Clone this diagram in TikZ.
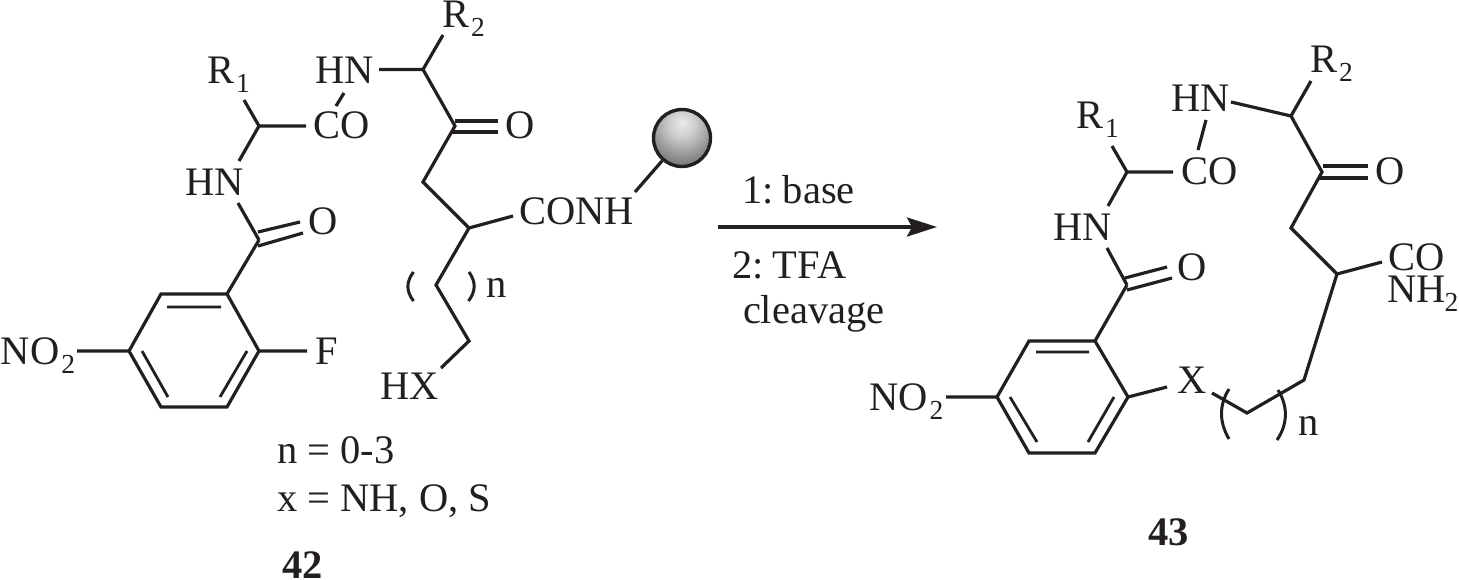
\documentclass[tikz,border=0pt]{standalone}
\usepackage{fontspec}
\setmainfont{Liberation Serif}
\usetikzlibrary{arrows.meta}
\definecolor{ink}{HTML}{231F20}
\newcommand{\subs}[1]{\kern2pt\raisebox{-9pt}{\fontsize{27.5}{27.5}\selectfont #1}}
\pgfdeclareradialshading{resinball}{\pgfpoint{0bp}{14bp}}{%
  color(0bp)=(white!92!black); color(12bp)=(white!80!black); color(28bp)=(white!55!black);
  color(44bp)=(white!33!black); color(60bp)=(white!18!black); color(100bp)=(white!15!black)}
\tikzset{
  lab/.style={anchor=base west,inner sep=0pt,outer sep=0pt,text=ink,font=\fontsize{40.5}{40.5}\selectfont},
  blab/.style={lab,font=\fontsize{40.5}{40.5}\selectfont\bfseries},
  bond/.style={draw=ink,line width=3.2pt,line cap=butt,line join=miter},
  inner/.style={draw=ink,line width=2.8pt},
  brack/.style={draw=ink,line width=3pt},
  resin/.style={circle,draw=ink,line width=3.4pt,minimum size=57pt,inner sep=0pt,shading=resinball},
  rxn/.style={draw=ink,line width=3.2pt,-{Stealth[length=30pt,width=19pt,inset=5pt]}}
}
\begin{document}
\begin{tikzpicture}[x=1pt,y=-1pt]
\useasboundingbox (0,0) rectangle (1459,579);
% ---------- compound 42 labels
\node[lab] (aNO) at (1,364) {NO\subs{2}};
\node[lab] (aF) at (315,364) {F};
\node[lab] (aO1) at (308,234) {O};
\node[lab] (aHN1) at (185,195) {HN};
\node[lab] (aR1) at (207,83) {R\subs{1}};
\node[lab] (aCO) at (313,138) {CO};
\node[lab] (aHN2) at (315,83) {HN};
\node[lab] (aR2) at (442,27) {R\subs{2}};
\node[lab] (aO2) at (505,138) {O};
\node[lab] (aCONH) at (519,224) {CONH};
\node[lab] (an) at (486,297) {n};
\node[lab] (aHX) at (380,399) {HX};
\node[lab] (t1) at (277,463) {n = 0-3};
\node[lab] (t2) at (277,511) {x = NH, O, S};
\node[blab] (t3) at (282,578) {42};
\node[resin] (ball) at (682,138) {};
% ---------- compound 42 atoms
\coordinate (a1) at (129,351); \coordinate (a2) at (161,294); \coordinate (a3) at (227,294);
\coordinate (a4) at (259,351); \coordinate (a5) at (227,407); \coordinate (a6) at (161,407);
\coordinate (ac) at (259,240); \coordinate (aca) at (259,126); \coordinate (acb) at (423,69.5);
\coordinate (ak) at (455,126); \coordinate (am) at (423,182); \coordinate (ach) at (469,228);
\coordinate (ax) at (436,285); \coordinate (ay) at (469,341);
\draw[bond] (a1)--(a2)--(a3)--(a4)--(a5)--(a6)--cycle;
\coordinate (i1) at (167,307); \coordinate (i2) at (221,307);
\coordinate (i3) at (142,351); \coordinate (i4) at (168,397);
\coordinate (i5) at (247,351); \coordinate (i6) at (220,397);
\draw[inner] (i1)--(i2) (i3)--(i4) (i5)--(i6);
\coordinate (e1) at (77,351); \coordinate (e2) at (307,351);
\draw[bond] (e1)--(a1) (a4)--(e2) (a3)--(ac);
\coordinate (d1) at (258,232); \coordinate (d2) at (300,222); \coordinate (d3) at (258,246); \coordinate (d4) at (303,233);
\draw[bond] (d1)--(d2) (d3)--(d4);
\coordinate (e3) at (238,203); \coordinate (e4) at (239,161); \coordinate (e5) at (244,100);
\coordinate (e6) at (306,126); \coordinate (e7) at (336,106); \coordinate (e8) at (344,93);
\coordinate (e9) at (379,69.5); \coordinate (e10) at (443,35);
\draw[bond] (ac)--(e3) (e4)--(aca) (aca)--(e5) (aca)--(e6) (e7)--(e8) (e9)--(acb) (acb)--(e10) (acb)--(ak)--(am)--(ach);
\coordinate (d5) at (455,121); \coordinate (d6) at (498,121); \coordinate (d7) at (452,132); \coordinate (d8) at (498,132);
\draw[bond] (d5)--(d6) (d7)--(d8);
\coordinate (e11) at (513,216); \coordinate (e12) at (635,192); \coordinate (e13) at (441,368);
\draw[bond] (ach)--(e11) (e12)--(ball) (ach)--(ax)--(ay)--(e13);
\coordinate (b1) at (413.5,272); \coordinate (b2) at (413.5,301);
\coordinate (b3) at (469,272); \coordinate (b4) at (468.5,301);
\draw[brack] (b1) .. controls (406,282) and (406,291) .. (b2);
\draw[brack] (b3) .. controls (476,282) and (476,291) .. (b4);
% ---------- reaction arrow
\coordinate (r1) at (718,227); \coordinate (r2) at (937,227);
\draw[rxn] (r1)--(r2);
\node[lab] (l1) at (742,203) {1:\kern-4pt{} base};
\node[lab] (l2) at (732,278) {2:\kern-4pt{} TFA};
\node[lab] (l3) at (743,323) {cleavage};
% ---------- compound 43 labels
\node[lab] (cNO) at (869,410) {NO\subs{2}};
\node[lab] (cX) at (1177,393) {X};
\node[lab] (cn) at (1298,435) {n};
\node[blab] (c43) at (1148,545) {43};
\node[lab] (cO1) at (1177,280) {O};
\node[lab] (cHN1) at (1053,240) {HN};
\node[lab] (cR1) at (1076,128) {R\subs{1}};
\node[lab] (cCO) at (1181,184) {CO};
\node[lab] (cHN2) at (1171,111) {HN};
\node[lab] (cR2) at (1310,72) {R\subs{2}};
\node[lab] (cO2) at (1375,184) {O};
\node[lab] (cCO2) at (1388,270) {CO};
\node[lab] (cNH) at (1387,302) {NH\kern-1pt\raisebox{-9pt}{\fontsize{27.5}{27.5}\selectfont 2}};
% ---------- compound 43 atoms
\coordinate (c1) at (997,397); \coordinate (c2) at (1029,341); \coordinate (c3) at (1095,341);
\coordinate (c4) at (1128,397); \coordinate (c5) at (1095,453); \coordinate (c6) at (1029,453);
\draw[bond] (c1)--(c2)--(c3)--(c4)--(c5)--(c6)--cycle;
\coordinate (j1) at (1036,352); \coordinate (j2) at (1089,352);
\coordinate (j3) at (1010,397); \coordinate (j4) at (1037,442);
\coordinate (j5) at (1114,397); \coordinate (j6) at (1088,442);
\draw[inner] (j1)--(j2) (j3)--(j4) (j5)--(j6);
\coordinate (f1) at (946,397); \coordinate (f2) at (1167,387);
\coordinate (f3) at (1212,393); \coordinate (g1) at (1247,413); \coordinate (g2) at (1304,380);
\coordinate (cch) at (1337,274);
\draw[bond] (f1)--(c1) (c4)--(f2) (f3)--(g1)--(g2)--(cch);
\coordinate (p1) at (1229,389); \coordinate (p2) at (1229,439);
\coordinate (p3) at (1278,390); \coordinate (p4) at (1277,440);
\draw[brack] (p1) .. controls (1219,405) and (1219,422) .. (p2);
\draw[brack] (p3) .. controls (1288,406) and (1288,424) .. (p4);
\coordinate (cc) at (1127,285); \coordinate (cca) at (1127,172); \coordinate (ccb) at (1291,116);
\coordinate (ck) at (1322,172); \coordinate (cm) at (1291,228);
\draw[bond] (c3)--(cc);
\coordinate (h1) at (1125,278); \coordinate (h2) at (1167,267); \coordinate (h3) at (1127,290); \coordinate (h4) at (1172,278);
\draw[bond] (h1)--(h2) (h3)--(h4);
\coordinate (f4) at (1107,248); \coordinate (f5) at (1108,206); \coordinate (f6) at (1112,146);
\coordinate (f7) at (1173,172); \coordinate (f8) at (1198,150); \coordinate (f9) at (1206,120);
\coordinate (f10) at (1231,102); \coordinate (f11) at (1311,81); \coordinate (f12) at (1382,262);
\draw[bond] (cc)--(f4) (f5)--(cca) (cca)--(f6) (cca)--(f7) (f8)--(f9) (f10)--(ccb) (ccb)--(f11) (ccb)--(ck)--(cm)--(cch) (cch)--(f12);
\coordinate (h5) at (1323,166); \coordinate (h6) at (1368,166); \coordinate (h7) at (1318,178); \coordinate (h8) at (1368,178);
\draw[bond] (h5)--(h6) (h7)--(h8);
\end{tikzpicture}
\end{document}
